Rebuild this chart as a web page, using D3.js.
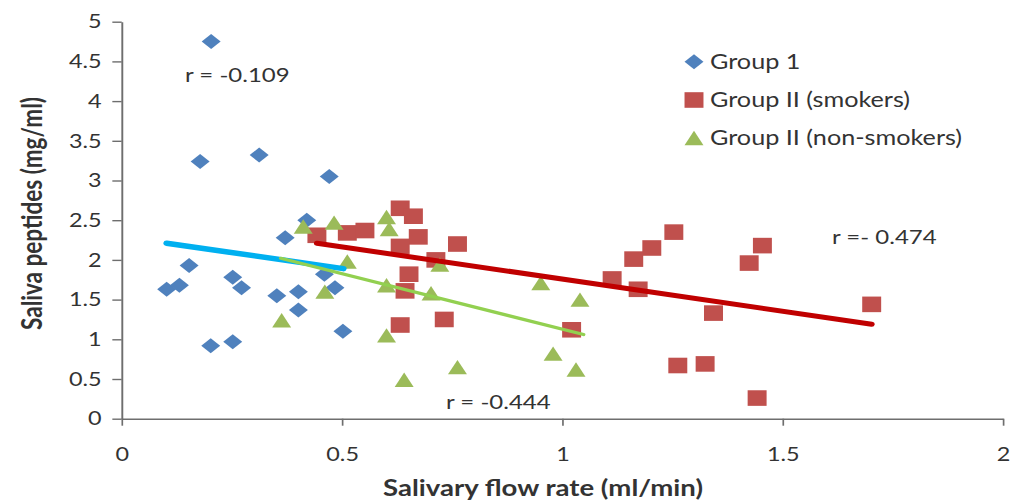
<!DOCTYPE html>
<html><head><meta charset="utf-8">
<script src="https://cdn.jsdelivr.net/npm/d3@7"></script>
<style>html,body{margin:0;padding:0;background:#fff;overflow:hidden}</style>
</head><body>
<svg id="c" width="1012" height="501"></svg>
<script>
// ---- data ----
const group1X = [0.203,0.178,0.312,0.471,0.420,0.371,0.153,0.102,0.131,0.252,0.272,0.352,0.401,0.401,0.202,0.252,0.460,0.484,0.502];
const group1Y = [4.75,3.24,3.32,3.05,2.50,2.28,1.93,1.63,1.68,1.78,1.65,1.55,1.60,1.37,0.92,0.97,1.82,1.65,1.10];
const smokersX = [0.443,0.512,0.552,0.632,0.662,0.673,0.632,0.762,0.713,0.652,0.643,0.732,0.632,1.021,1.113,1.172,1.162,1.203,1.253,1.343,1.262,1.324,1.424,1.454,1.442,1.702];
const smokersY = [2.31,2.34,2.37,2.65,2.55,2.29,2.17,2.20,2.00,1.82,1.61,1.25,1.18,1.12,1.76,1.63,2.01,2.15,2.35,1.33,0.67,0.69,1.96,2.18,0.26,1.44];
const nonSmokersX = [0.412,0.482,0.363,0.461,0.512,0.601,0.607,0.601,0.601,0.702,0.722,0.641,0.762,0.951,1.040,0.979,1.031];
const nonSmokersY = [2.42,2.47,1.24,1.60,1.98,2.54,2.39,1.68,1.05,1.58,1.94,0.49,0.65,1.71,1.50,0.82,0.62];
const trend1X = [0.102,0.503],  trend1Y = [2.21,1.89];
const trendSX = [0.443,1.702],  trendSY = [2.21,1.19];
const trendNX = [0.361,1.048],  trendNY = [2.02,1.06];
const seriesNames = ["Group 1","Group II (smokers)","Group II (non-smokers)"];
const rLabels = ["r = -0.109","r = -0.444","r =- 0.474"];
const xTicks = [0,0.5,1,1.5,2];
const yTicks = [0,0.5,1,1.5,2,2.5,3,3.5,4,4.5,5];
const xTitle = "Salivary flow rate (ml/min)";
const yTitle = "Saliva peptides (mg/ml)";

// ---- layout (image is horizontally stretched: viewBox trick) ----
const S = 1.2;
const VBW = 1012 / S;
const svg = d3.select("#c").attr("viewBox", `0 0 ${VBW} 501`).attr("preserveAspectRatio","none");
const FONT = "Lato, 'Open Sans', sans-serif";
const x = d3.scaleLinear().domain([0,2]).range([121.7/S, 1003/S]);
const y = d3.scaleLinear().domain([0,5]).range([418.7, 21.7]);
const axisColor = "#6e6e6e", textColor = "#333";

const gx = svg.append("g").attr("transform",`translate(0,${y(0)})`)
  .call(d3.axisBottom(x).tickValues(xTicks).tickFormat(d3.format("")).tickSize(7).tickPadding(21).tickSizeOuter(0));
const gy = svg.append("g").attr("transform",`translate(${x(0)},0)`)
  .call(d3.axisLeft(y).tickValues(yTicks).tickFormat(d3.format("")).tickSize(7.8).tickPadding(9).tickSizeOuter(0));
[gx,gy].forEach(g=>{
  g.select(".domain").attr("stroke",axisColor).attr("stroke-width",1.6);
  g.selectAll(".tick line").attr("stroke",axisColor).attr("stroke-width",1.4);
  g.selectAll(".tick text").attr("fill",textColor).attr("font-family",FONT).attr("font-size",19.5);
});

// markers
const diamond = (cx,cy)=>`M${cx},${cy-7.5}L${cx+7.9},${cy}L${cx},${cy+7.5}L${cx-7.9},${cy}Z`;
const square = (cx,cy)=>`M${cx-7.9},${cy-7.8}h15.8v15.6h-15.8Z`;
const tri = (cx,cy)=>`M${cx},${cy-7.2}L${cx+7.9},${cy+7.2}L${cx-7.9},${cy+7.2}Z`;
const colors = ["#4F81BD","#C0504D","#9BBB59"];

svg.append("g").selectAll("path").data(d3.zip(group1X,group1Y)).join("path")
  .attr("d",d=>diamond(x(d[0]),y(d[1]))).attr("fill",colors[0]);
svg.append("g").selectAll("path").data(d3.zip(smokersX,smokersY)).join("path")
  .attr("d",d=>square(x(d[0]),y(d[1]))).attr("fill",colors[1]);
svg.append("g").selectAll("path").data(d3.zip(nonSmokersX,nonSmokersY)).join("path")
  .attr("d",d=>tri(x(d[0]),y(d[1]))).attr("fill",colors[2]);

// trend lines
const line = d3.line().x(d=>x(d[0])).y(d=>y(d[1]));
[[trend1X,trend1Y,"#00B0F0",5.5],[trendSX,trendSY,"#C00000",5],[trendNX,trendNY,"#92D050",3.2]].forEach(([tx,ty,c,w])=>{
  svg.append("path").attr("d",line(d3.zip(tx,ty))).attr("fill","none").attr("stroke",c)
    .attr("stroke-width",w).attr("stroke-linecap","round");
});

// r labels
const rPos = [[185/S,75],[446/S,401.7],[832/S,237]];
rLabels.forEach((t,i)=>{
  svg.append("text").attr("x",rPos[i][0]).attr("y",rPos[i][1]).attr("dy","0.35em")
    .attr("font-family",FONT).attr("font-size",20).attr("fill",textColor).text(t);
});

// legend
const legY = [61.7,100,138];
const mk = [diamond,square,tri];
seriesNames.forEach((n,i)=>{
  svg.append("path").attr("d",mk[i](694/S,legY[i])).attr("fill",colors[i]);
  svg.append("text").attr("x",710/S).attr("y",legY[i]).attr("dy","0.35em")
    .attr("font-family",FONT).attr("font-size",21).attr("fill",textColor).text(n);
});

// axis titles
svg.append("text").attr("x",543/S).attr("y",488).attr("dy","0.35em").attr("text-anchor","middle")
  .attr("font-family",FONT).attr("font-weight","bold").attr("font-size",23).attr("fill",textColor)
  .attr("textLength",320/S).attr("lengthAdjust","spacingAndGlyphs").text(xTitle);
svg.append("text").attr("transform",`translate(${32/S},213.5) rotate(-90)`).attr("dy","0.35em").attr("text-anchor","middle")
  .attr("font-family",FONT).attr("font-weight","bold").attr("font-size",23).attr("fill",textColor)
  .attr("textLength",233).attr("lengthAdjust","spacingAndGlyphs").text(yTitle);
</script>
</body></html>
